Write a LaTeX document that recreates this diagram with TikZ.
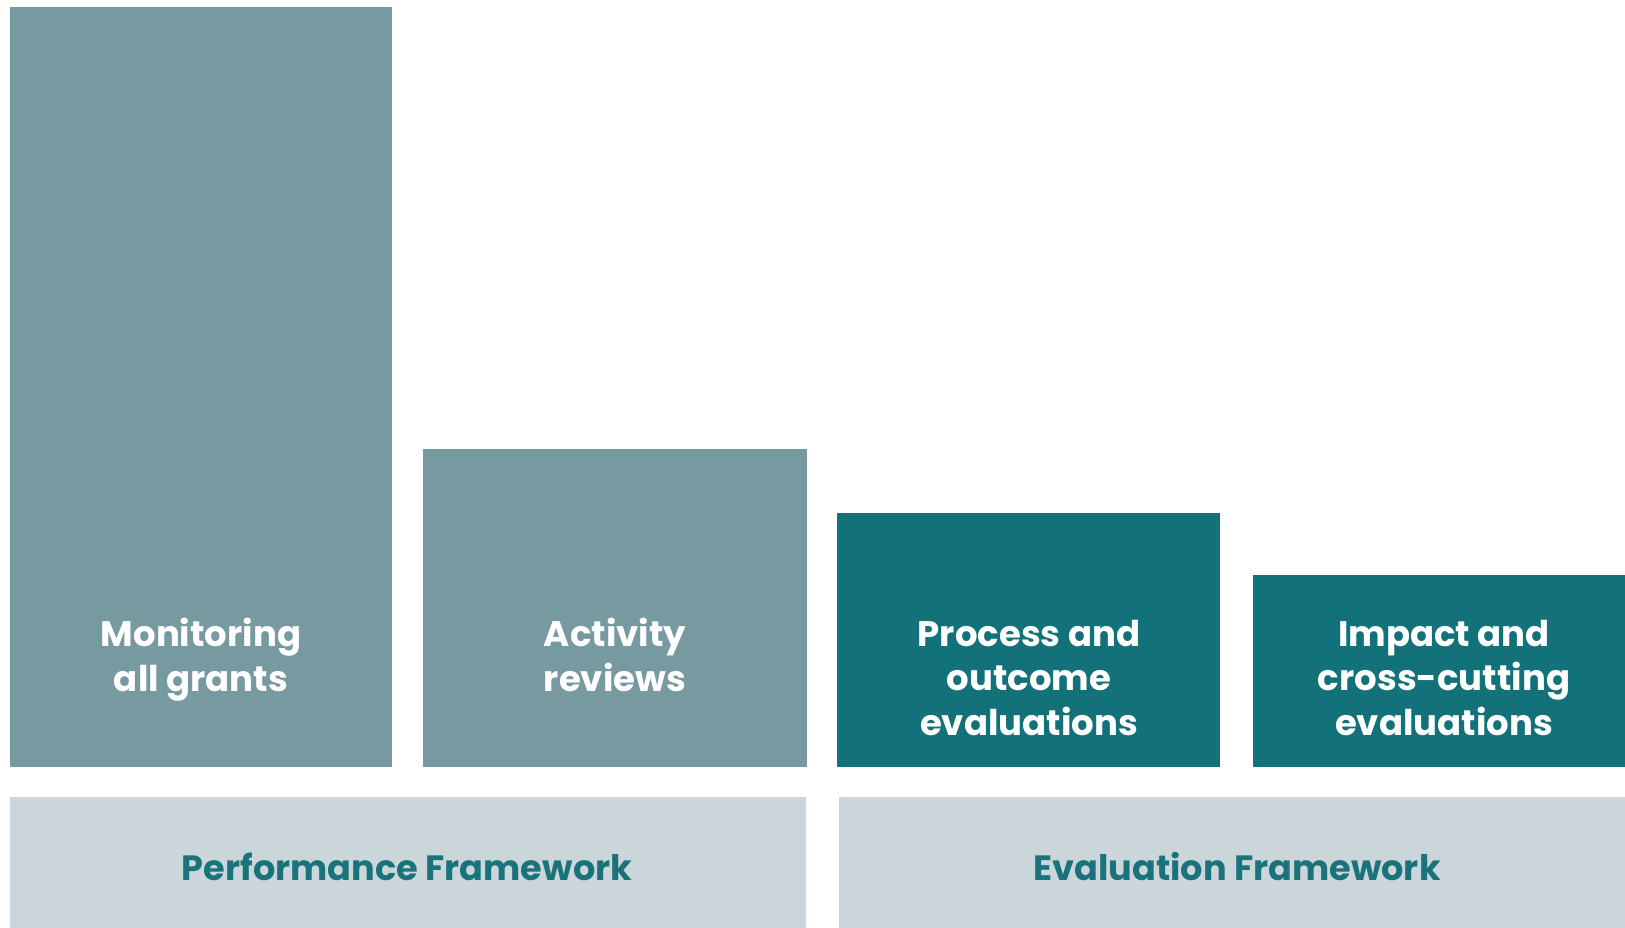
\documentclass[tikz,border=0pt]{standalone}
\usepackage{fontspec}
\setmainfont{Poppins}
\usepackage{xcolor}
\usetikzlibrary{positioning}

\definecolor{barlight}{HTML}{769AA0}
\definecolor{bardark}{HTML}{137179}
\definecolor{baseband}{HTML}{CBD6DA}
\definecolor{basetext}{HTML}{1A737B}

\begin{document}
\begin{tikzpicture}[
    x=0.02cm, y=-0.02cm,
    bartext/.style={anchor=north, inner sep=0pt, align=center, text=white,
        font=\fontsize{20.2}{25.2}\selectfont\bfseries},
    bandtext/.style={inner sep=0pt, text=basetext,
        font=\fontsize{20}{24}\selectfont\bfseries}
]
\useasboundingbox (0,0) rectangle (1625,927);
\fill[white] (0,0) rectangle (1625,927);

% bars
\fill[barlight] (10,7) rectangle (392,767);
\fill[barlight] (423,449) rectangle (807,767);
\fill[bardark] (837,513) rectangle (1220,767);
\fill[bardark] (1253,575) rectangle (1636,767);

% framework bands
\fill[baseband] (10,797) rectangle (806,937);
\fill[baseband] (839,797) rectangle (1636,937);

% labels
\node[bartext] (monitor) at (201,618) {Monitoring\\all grants};
\node[bartext] (review) at (615,618) {Activity\\reviews};
\node[bartext] (process) at (1029,620) {Process and\\outcome\\evaluations};
\node[bartext] (impact) at (1444,620) {Impact and\\cross-cutting\\evaluations};

\node[bandtext] (perf) at (407,867) {Performance Framework};
\node[bandtext] (eval) at (1237,867) {Evaluation Framework};
\end{tikzpicture}
\end{document}
